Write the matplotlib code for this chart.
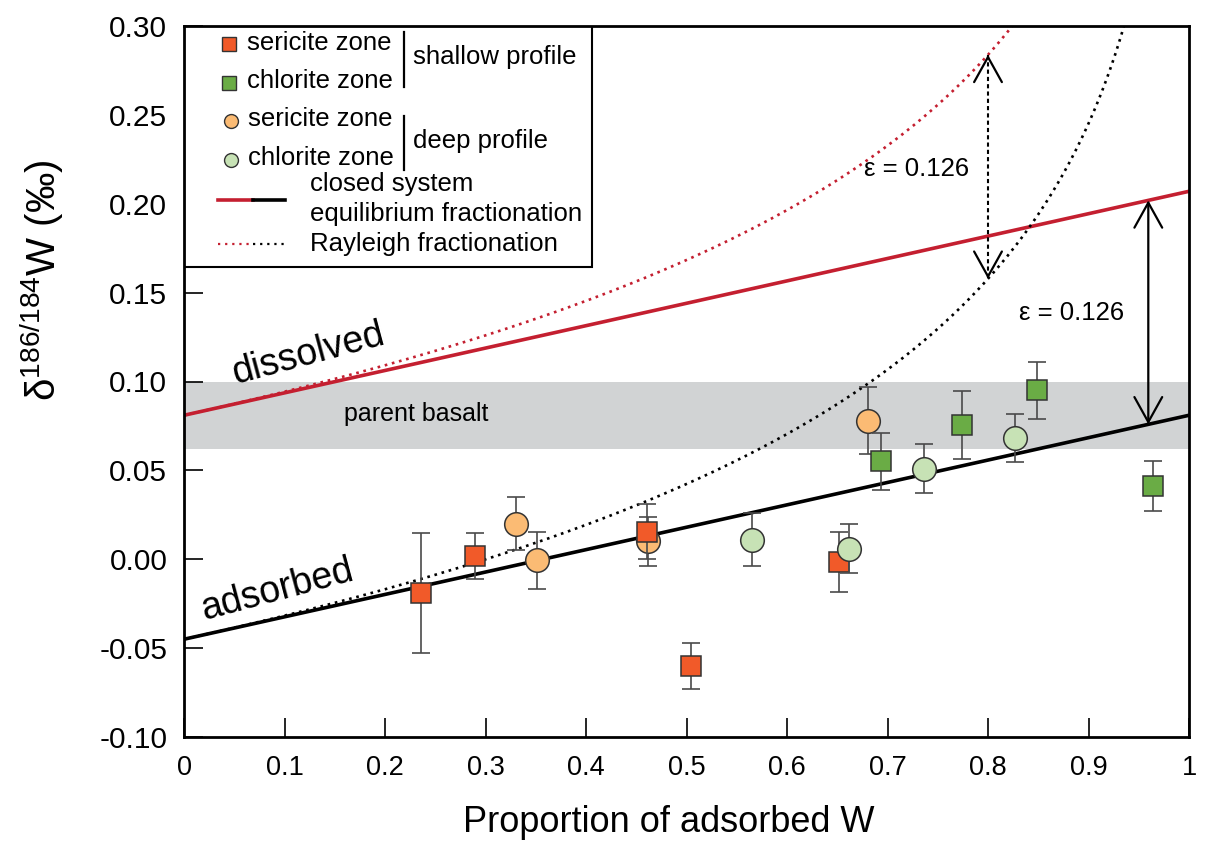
import matplotlib.pyplot as plt
import numpy as np
from matplotlib.patches import Rectangle

plt.rcParams['font.family'] = ['Liberation Sans', 'DejaVu Sans']
plt.rcParams['mathtext.fontset'] = 'custom'
plt.rcParams['mathtext.rm'] = 'Liberation Sans'
plt.rcParams['mathtext.default'] = 'regular'

# shallow profile, sericite zone
sh_ser_x = [0.236, 0.290, 0.461, 0.504, 0.652]
sh_ser_y = [-0.019, 0.002, 0.0155, -0.060, -0.0015]
sh_ser_e = [0.034, 0.013, 0.0155, 0.013, 0.017]
# shallow profile, chlorite zone
sh_chl_x = [0.694, 0.774, 0.849, 0.964]
sh_chl_y = [0.055, 0.0755, 0.095, 0.041]
sh_chl_e = [0.016, 0.019, 0.016, 0.014]
# deep profile, sericite zone
dp_ser_x = [0.330, 0.351, 0.462, 0.681]
dp_ser_y = [0.020, -0.0005, 0.010, 0.078]
dp_ser_e = [0.015, 0.016, 0.014, 0.019]
# deep profile, chlorite zone
dp_chl_x = [0.565, 0.662, 0.736, 0.827]
dp_chl_y = [0.011, 0.006, 0.051, 0.068]
dp_chl_e = [0.015, 0.014, 0.014, 0.0135]

basalt_lo, basalt_hi = 0.062, 0.100
delta0 = 0.081   # starting fluid = parent basalt
eps = 0.126      # dissolved - adsorbed

xticks = np.arange(0, 1.01, 0.1)
xlabels = ['0', '0.1', '0.2', '0.3', '0.4', '0.5', '0.6', '0.7', '0.8', '0.9', '1']
yticks = np.arange(-0.10, 0.301, 0.05)
ylabels = ['-0.10', '-0.05', '0.00', '0.05', '0.10', '0.15', '0.20', '0.25', '0.30']

RED = '#c41f30'
C_SH_SER = '#f15a29'
C_SH_CHL = '#6aac45'
C_DP_SER = '#fbbb74'
C_DP_CHL = '#c7e2b5'
DOTS = (0, (1, 1.8))

fig = plt.figure(figsize=(12.05, 8.41), dpi=100)
ax = fig.add_axes([184/1205, 1-737/841, 1005/1205, 711/841])
ax.set_xlim(0, 1)
ax.set_ylim(-0.10, 0.30)

ax.axhspan(basalt_lo, basalt_hi, color='#d1d3d4', lw=0, zorder=0)
ax.text(0.231, 0.0815, 'parent basalt', fontsize=18, ha='center', va='center')

# closed system equilibrium
f = np.linspace(0, 1, 200)
closed_diss = delta0 + eps*f
closed_ads = closed_diss - eps
ax.plot(f, closed_diss, color=RED, lw=2.6, zorder=2)
ax.plot(f, closed_ads, color='black', lw=2.6, zorder=2)

# Rayleigh
fr = np.linspace(0, 0.99, 500)
ray_diss = delta0 - eps*np.log(1 - fr)
ray_ads = ray_diss - eps
ax.plot(fr, ray_diss, color=RED, lw=1.9, ls=DOTS, zorder=2)
ax.plot(fr, ray_ads, color='black', lw=1.9, ls=DOTS, zorder=2)

# epsilon arrows
xa = 0.9595
ax.annotate('', xy=(xa, delta0 + eps*xa), xytext=(xa, delta0 + eps*xa - eps),
            arrowprops=dict(arrowstyle='<->,head_length=0.9,head_width=0.5',
                            color='black', lw=1.6, shrinkA=0, shrinkB=0,
                            mutation_scale=20))
xr = 0.8
r_top = delta0 - eps*np.log(1 - xr)
r_bot = r_top - eps
ax.plot([xr, xr], [r_top, r_bot], color='black', lw=1.5, ls=(0, (2, 1.5)), zorder=3)
for tip, tail in [(r_top, r_top - 0.002), (r_bot, r_bot + 0.002)]:
    ax.annotate('', xy=(xr, tip), xytext=(xr, tail),
                arrowprops=dict(arrowstyle='->,head_length=0.9,head_width=0.5',
                                color='black', lw=1.6, shrinkA=0, shrinkB=0,
                                mutation_scale=20))
ax.text(0.7294, 0.2196, 'ε = 0.126', fontsize=18.5, ha='center', va='center')
ax.text(0.8836, 0.1385, 'ε = 0.126', fontsize=18.5, ha='center', va='center')

ax.text(0.1234, 0.1155, 'dissolved', fontsize=27, rotation=15, ha='center', va='center')
ax.text(0.0925, -0.0175, 'adsorbed', fontsize=27, rotation=15, ha='center', va='center')

# samples
series = [
    (dp_ser_x, dp_ser_y, dp_ser_e, 'o', 17, C_DP_SER),
    (sh_ser_x, sh_ser_y, sh_ser_e, 's', 15, C_SH_SER),
    (dp_chl_x, dp_chl_y, dp_chl_e, 'o', 17, C_DP_CHL),
    (sh_chl_x, sh_chl_y, sh_chl_e, 's', 15, C_SH_CHL),
]
z = 4
for xs, ys, es, mk, ms, col in series:
    ax.errorbar(xs, ys, yerr=es, fmt='none', ecolor='#4a4a4a', elinewidth=1.2,
                capsize=6.5, capthick=1.2, zorder=z)
    ax.plot(xs, ys, ls='none', marker=mk, ms=ms, mfc=col, mec='#333333',
            mew=1.1, zorder=z + 1)
    z += 2

ax.set_xticks(xticks)
ax.set_xticklabels(xlabels)
ax.set_yticks(yticks)
ax.set_yticklabels(ylabels)
ax.tick_params(axis='x', direction='in', length=14, width=1.2, labelsize=19.5, pad=13)
ax.tick_params(axis='y', direction='in', length=14, width=1.2, labelsize=21.5, pad=12)
for s in ax.spines.values():
    s.set_linewidth(2)
    s.set_zorder(20)

fig.text(669/1205, 1 - 822/841, 'Proportion of adsorbed W', fontsize=26,
         ha='center', va='center')
fig.text(42/1205, 1 - 280/841, 'δ$^{186/184}$W (‰)', fontsize=29,
         rotation=90, ha='center', va='center')

# legend drawn by hand
def px(xp, yp):
    return ((xp - 184)/1005, (737 - yp)/711)

lx0, ly0 = px(184, 267)
lx1, ly1 = px(592, 26)
ax.add_patch(Rectangle((lx0, ly0), lx1 - lx0, ly1 - ly0, transform=ax.transAxes,
                       facecolor='white', edgecolor='black', lw=1.5, zorder=10))
tr = ax.transAxes
for (xp, yp), mk, ms, col in [((229, 44), 's', 9.5, C_SH_SER),
                              ((229, 83), 's', 9.5, C_SH_CHL),
                              ((231, 121), 'o', 10, C_DP_SER),
                              ((231, 160), 'o', 10, C_DP_CHL)]:
    ax.plot(*px(xp, yp), marker=mk, ms=ms, mfc=col, mec='#333333', mew=1,
            transform=tr, zorder=11, clip_on=False)
for (xp, yp), txt in [((247, 43), 'sericite zone'), ((247, 81), 'chlorite zone'),
                      ((248, 119), 'sericite zone'), ((248, 158), 'chlorite zone'),
                      ((413, 57), 'shallow profile'), ((413, 141), 'deep profile'),
                      ((310, 184), 'closed system'), ((310, 214), 'equilibrium fractionation'),
                      ((310, 244), 'Rayleigh fractionation')]:
    ax.text(*px(xp, yp), txt, fontsize=18.5, ha='left', va='center',
            transform=tr, zorder=11)
for y0, y1 in [(32, 87), (116, 170)]:
    ax.plot(*zip(px(404, y0), px(404, y1)), color='black', lw=1.6,
            transform=tr, zorder=11)
ax.plot(*zip(px(218, 200), px(253, 200)), color=RED, lw=2.6, transform=tr, zorder=11)
ax.plot(*zip(px(253, 200), px(285, 200)), color='black', lw=2.6, transform=tr, zorder=11)
ax.plot(*zip(px(218, 244), px(253, 244)), color=RED, lw=1.6, ls=(0, (1, 2.2)),
        transform=tr, zorder=11)
ax.plot(*zip(px(253, 244), px(285, 244)), color='black', lw=1.6, ls=(0, (1, 2.2)),
        transform=tr, zorder=11)

fig.savefig('out.png', dpi=100)
